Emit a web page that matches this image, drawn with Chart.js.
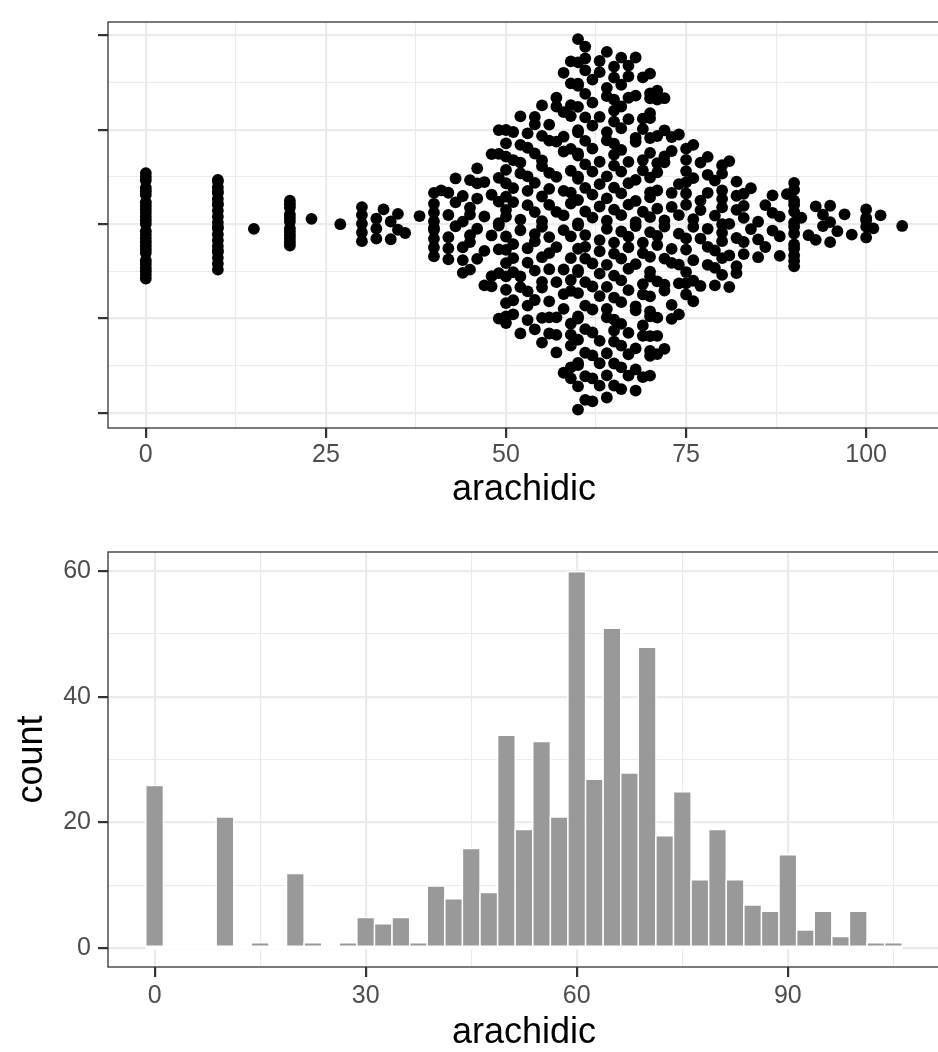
<!DOCTYPE html>
<html>
<head>
<meta charset="utf-8">
<script src="https://cdn.jsdelivr.net/npm/chart.js@4.4.1/dist/chart.umd.min.js"></script>
<style>
  html, body { margin:0; padding:0; background:#ffffff; width:938px; height:1052px; overflow:hidden; }
  canvas { position:absolute; left:0; }
</style>
</head>
<body>
<canvas id="swarm" width="940" height="530" style="top:0px;width:940px;height:530px"></canvas>
<canvas id="hist" width="940" height="530" style="top:530px;width:940px;height:530px"></canvas>
<script>
// ---------------- DATA ----------------
// distinct arachidic values and how many oils share each value (top swarm)
const arachidicValues = [0,10,15,20,23,27,30,32,33,34,35,36,38,40,41,42,43,44,45,46,47,48,49,
  50,51,52,53,54,55,56,57,58,59,60,61,62,63,64,65,66,67,68,69,70,71,72,73,74,75,76,77,78,79,
  80,81,82,83,84,85,86,87,88,89,90,91,92,93,94,95,96,97,98,100,101,102,105];
const arachidicCounts = [26,21,1,12,1,1,5,3,1,2,2,1,1,9,1,5,3,5,6,5,4,5,9,
  16,9,9,10,10,12,11,10,11,17,25,18,14,13,16,19,16,14,14,13,22,13,10,8,7,11,7,5,6,5,
  10,4,6,5,2,3,2,3,3,1,13,1,1,2,2,3,1,1,1,5,1,1,1];

// histogram (binwidth 2.5): bin centres and counts
const binCenters = [0,2.5,5,7.5,10,12.5,15,17.5,20,22.5,25,27.5,30,32.5,35,37.5,40,42.5,45,47.5,
  50,52.5,55,57.5,60,62.5,65,67.5,70,72.5,75,77.5,80,82.5,85,87.5,90,92.5,95,97.5,100,102.5,105];
const binCounts = [26,0,0,0,21,0,1,0,12,1,0,1,5,4,5,1,10,8,16,9,
  34,19,33,21,60,27,51,28,48,18,25,11,19,11,7,6,15,3,6,2,6,1,1];
const binWidth = 2.5;

// tick labels
const swarmXMajor = [0,25,50,75,100];
const swarmXMinor = [12.5,37.5,62.5,87.5];
const swarmYMajor = [-0.4,-0.2,0,0.2,0.4];
const swarmYMinor = [-0.3,-0.1,0.1,0.3];
const histXMajor = [0,30,60,90];
const histXMinor = [15,45,75,105];
const histYMajor = [0,20,40,60];
const histYMinor = [10,30,50];

// ---------------- quasirandom (beeswarm) layout ----------------
const FONT = '"Liberation Sans", Arial, Helvetica, sans-serif';
const QUASI_WIDTH = 0.4;      // max offset
const BW_ADJUST = 0.5;        // bandwidth adjustment

function expandValues(vals, counts) {
  const out = [];
  vals.forEach((v, i) => { for (let k = 0; k < counts[i]; k++) out.push(v); });
  return out.sort((a, b) => a - b);
}
function quantile7(sorted, p) {
  const h = (sorted.length - 1) * p, lo = Math.floor(h);
  const hi = Math.min(lo + 1, sorted.length - 1);
  return sorted[lo] + (h - lo) * (sorted[hi] - sorted[lo]);
}
function bwNrd0(x) {
  const n = x.length;
  const mean = x.reduce((a, b) => a + b, 0) / n;
  const sd = Math.sqrt(x.reduce((a, b) => a + (b - mean) * (b - mean), 0) / (n - 1));
  const iqr = quantile7(x, 0.75) - quantile7(x, 0.25);
  const lo = Math.min(sd, iqr / 1.34) || sd || 1;
  return 0.9 * lo * Math.pow(n, -0.2);
}
function vanDerCorput(i) {
  let q = 0, bk = 0.5;
  while (i > 0) { q += (i % 2) * bk; i = Math.floor(i / 2); bk /= 2; }
  return q;
}
function quasirandomPoints(vals, counts) {
  const xs = expandValues(vals, counts);
  const bw = bwNrd0(xs) * BW_ADJUST;
  const dens = t => { let s = 0; for (const v of xs) { const z = (t - v) / bw; s += Math.exp(-0.5 * z * z); } return s; };
  const lo = xs[0] - 3 * bw, hi = xs[xs.length - 1] + 3 * bw;
  let maxD = 0;
  for (let k = 0; k < 1024; k++) maxD = Math.max(maxD, dens(lo + (hi - lo) * k / 1023));
  const cache = {};
  return xs.map((v, i) => {
    if (cache[v] === undefined) cache[v] = dens(v) / maxD;
    const off = (vanDerCorput(i + 1) - 0.5) * 2 * cache[v];
    return { x: v, y: off * QUASI_WIDTH };
  });
}
const swarmPoints = quasirandomPoints(arachidicValues, arachidicCounts);

// ---------------- helpers ----------------
function makeTicks(major, minor) {
  return major.map(v => ({ value: v, isMajor: true }))
    .concat(minor.map(v => ({ value: v, isMajor: false })))
    .sort((a, b) => a.value - b.value);
}
function gridCfg() {
  return {
    color: '#EBEBEB',
    lineWidth: c => (c.tick && c.tick.isMajor) ? 2.2 : 1.1,
    drawTicks: true,
    tickLength: 10,
    tickColor: c => (c.tick && c.tick.isMajor) ? '#333333' : 'rgba(0,0,0,0)',
    tickWidth: 2.2,
    offset: false
  };
}
function tickCfg(pad, showLabels) {
  return {
    font: { family: FONT, size: 25 },
    color: '#4D4D4D',
    padding: pad,
    autoSkip: false,
    maxRotation: 0,
    minRotation: 0,
    callback: (v, i, t) => (showLabels && t[i] && t[i].isMajor) ? String(v) : ''
  };
}
const panelBorder = {
  id: 'panelBorder',
  afterDraw(chart) {
    const { ctx, chartArea: a } = chart;
    ctx.save();
    ctx.strokeStyle = '#333333';
    ctx.lineWidth = 1.3;
    ctx.strokeRect(a.left, a.top, a.right - a.left, a.bottom - a.top);
    ctx.restore();
  }
};
const zeroOutline = {
  id: 'zeroOutline',
  beforeDatasetsDraw(chart) {
    const xs = chart.scales.x, ys = chart.scales.y, ctx = chart.ctx;
    const x0 = xs.getPixelForValue(binCenters[0] - binWidth / 2);
    const x1 = xs.getPixelForValue(binCenters[binCenters.length - 1] + binWidth / 2);
    const y0 = ys.getPixelForValue(0);
    ctx.save();
    ctx.strokeStyle = '#ffffff';
    ctx.lineWidth = 2.4;
    ctx.beginPath(); ctx.moveTo(x0, y0); ctx.lineTo(x1, y0); ctx.stroke();
    ctx.restore();
  }
};

// ---------------- top: quasirandom swarm ----------------
new Chart(document.getElementById('swarm'), {
  type: 'scatter',
  data: { datasets: [{
    data: swarmPoints,
    pointRadius: 5.9, pointHoverRadius: 5.9,
    pointBackgroundColor: '#000000', pointBorderWidth: 0, borderWidth: 0
  }] },
  options: {
    responsive: false, devicePixelRatio: 1, animation: false, events: [],
    layout: { autoPadding: false, padding: { top: 13, right: 0, bottom: 0, left: 0 } },
    plugins: { legend: { display: false }, tooltip: { enabled: false } },
    scales: {
      x: {
        type: 'linear', min: -5.25, max: 110.25,
        afterBuildTicks: s => { s.ticks = makeTicks(swarmXMajor, swarmXMinor); },
        afterFit: s => { s.height = 102; },
        grid: gridCfg(), border: { display: false },
        ticks: tickCfg(2, true),
        title: { display: true, text: 'arachidic', color: '#000000',
                 font: { family: FONT, size: 36 }, padding: { top: 0, bottom: 18 } }
      },
      y: {
        type: 'linear', min: -0.4326, max: 0.4284,
        afterBuildTicks: s => { s.ticks = makeTicks(swarmYMajor, swarmYMinor); },
        afterFit: s => { s.width = 108; },
        grid: gridCfg(), border: { display: false },
        ticks: tickCfg(7, false)
      }
    }
  },
  plugins: [panelBorder]
});

// ---------------- bottom: histogram ----------------
new Chart(document.getElementById('hist'), {
  type: 'bar',
  data: { datasets: [{
    data: binCenters.map((c, i) => ({ x: c, y: binCounts[i] })),
    backgroundColor: '#999999', borderColor: '#ffffff', borderWidth: 1.6,
    borderSkipped: false, barPercentage: 1.1, categoryPercentage: 1
  }] },
  options: {
    responsive: false, devicePixelRatio: 1, animation: false, events: [],
    layout: { autoPadding: false, padding: { top: 21, right: 0, bottom: 0, left: 0 } },
    plugins: { legend: { display: false }, tooltip: { enabled: false } },
    scales: {
      x: {
        type: 'linear', min: -6.625, max: 111.625, offset: false,
        afterBuildTicks: s => { s.ticks = makeTicks(histXMajor, histXMinor); },
        afterFit: s => { s.height = 93; },
        grid: gridCfg(), border: { display: false },
        ticks: tickCfg(4, true),
        title: { display: true, text: 'arachidic', color: '#000000',
                 font: { family: FONT, size: 36 }, padding: { top: 0, bottom: 5 } }
      },
      y: {
        type: 'linear', min: -3, max: 63,
        afterBuildTicks: s => { s.ticks = makeTicks(histYMajor, histYMinor); },
        afterFit: s => { s.width = 108; },
        grid: gridCfg(), border: { display: false },
        ticks: tickCfg(7, true),
        title: { display: true, text: 'count', color: '#000000',
                 font: { family: FONT, size: 36 }, padding: { top: 10, bottom: 0 } }
      }
    }
  },
  plugins: [zeroOutline, panelBorder]
});
</script>
</body>
</html>
